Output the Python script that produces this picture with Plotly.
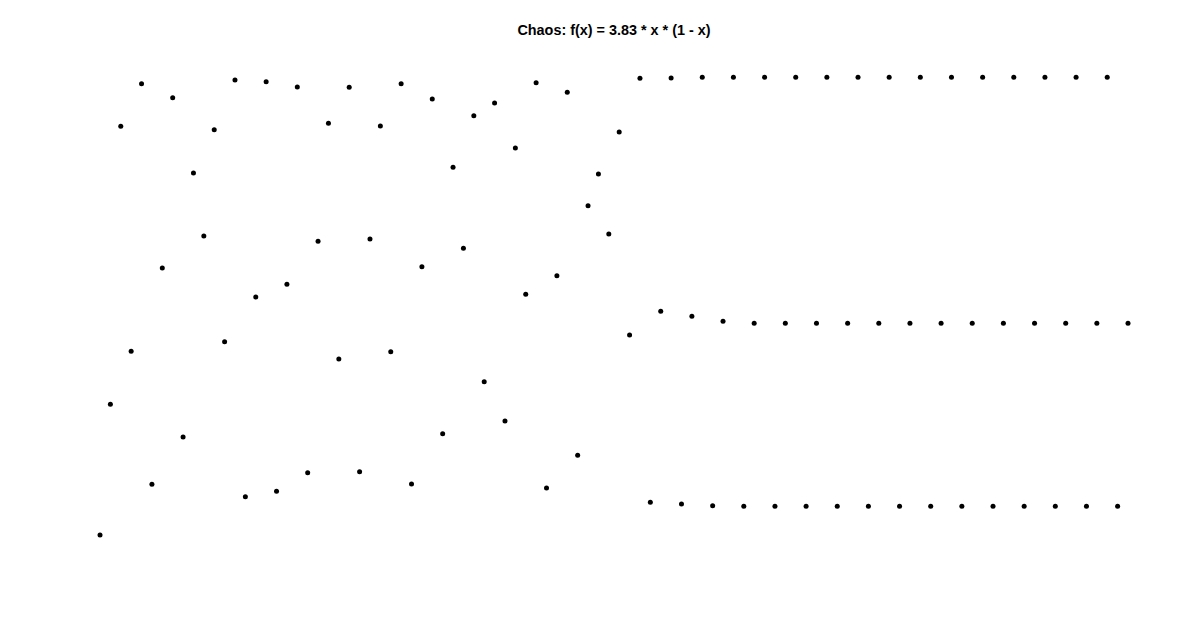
import plotly.graph_objects as go

# iteration index
steps = list(range(100))

# x_n values (transient chaos settling into a 3-cycle)
values = [
    0.1026, 0.3465, 0.8651, 0.4453, 0.9446, 0.1972, 0.6007, 0.9185, 0.2854, 0.7780,
    0.6604, 0.8588, 0.4632, 0.9515, 0.1741, 0.5466, 0.9483, 0.1841, 0.5703, 0.9384,
    0.2188, 0.6506, 0.8707, 0.4310, 0.9379, 0.2207, 0.6549, 0.8657, 0.4446, 0.9446,
    0.1978, 0.6032, 0.9160, 0.2916, 0.7886, 0.6375, 0.8849, 0.3886, 0.9086, 0.3153,
    0.8246, 0.5517, 0.9465, 0.1903, 0.5864, 0.9286, 0.2513, 0.7170, 0.7761, 0.6642,
    0.8545, 0.4757, 0.9547, 0.1636, 0.5200, 0.9552, 0.1604, 0.5106, 0.9565, 0.1573,
    0.5013, 0.9565, 0.1562, 0.4976, 0.9565, 0.1562, 0.4976, 0.9565, 0.1562, 0.4976,
    0.9565, 0.1562, 0.4976, 0.9565, 0.1562, 0.4976, 0.9565, 0.1562, 0.4976, 0.9565,
    0.1562, 0.4976, 0.9565, 0.1562, 0.4976, 0.9565, 0.1562, 0.4976, 0.9565, 0.1562,
    0.4976, 0.9565, 0.1562, 0.4976, 0.9565, 0.1562, 0.4976, 0.9565, 0.1562, 0.4976,
]

title_text = "Chaos: f(x) = 3.83 * x * (1 - x)"

fig = go.Figure(
    go.Scatter(
        x=steps,
        y=values,
        mode="markers",
        marker=dict(color="black", size=5, line=dict(width=0)),
        cliponaxis=False,
        hoverinfo="x+y",
    )
)

fig.update_layout(
    width=1200,
    height=627,
    margin=dict(l=100, r=72, t=54, b=37),
    paper_bgcolor="white",
    plot_bgcolor="white",
    showlegend=False,
    title=dict(
        text="<b>" + title_text + "</b>",
        x=0.5,
        xref="paper",
        xanchor="center",
        y=1 - 30 / 627,
        yref="container",
        yanchor="middle",
        font=dict(family="Liberation Sans, Arial, sans-serif", size=14.4, color="black"),
    ),
    xaxis=dict(range=[0, 99], visible=False),
    yaxis=dict(range=[0, 1], visible=False),
)

fig.write_html("out.html")
